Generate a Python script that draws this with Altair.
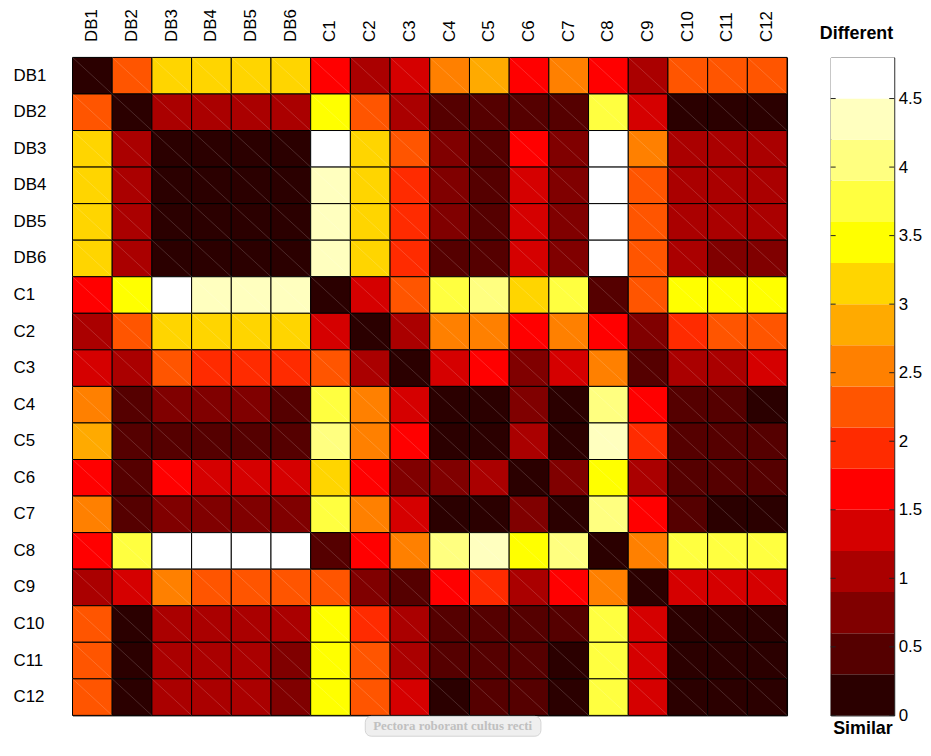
import altair as alt
import pandas as pd

names = ["DB1", "DB2", "DB3", "DB4", "DB5", "DB6", "C1", "C2", "C3",
         "C4", "C5", "C6", "C7", "C8", "C9", "C10", "C11", "C12"]

# distance values (row by row)
r_DB1 = [0.0, 2.2, 3.1, 3.1, 3.1, 3.1, 1.6, 1.0, 1.3, 2.5, 2.8, 1.6, 2.5, 1.6, 1.0, 2.2, 2.2, 2.2]
r_DB2 = [2.2, 0.0, 1.0, 1.0, 1.0, 1.0, 3.4, 2.2, 1.0, 0.4, 0.4, 0.4, 0.4, 3.7, 1.3, 0.1, 0.1, 0.1]
r_DB3 = [3.1, 1.0, 0.0, 0.1, 0.1, 0.1, 4.7, 3.1, 2.2, 0.7, 0.4, 1.6, 0.7, 4.7, 2.5, 1.0, 1.0, 1.0]
r_DB4 = [3.1, 1.0, 0.1, 0.0, 0.1, 0.1, 4.3, 3.1, 1.9, 0.7, 0.4, 1.3, 0.7, 4.7, 2.2, 1.0, 1.0, 1.0]
r_DB5 = [3.1, 1.0, 0.1, 0.1, 0.0, 0.1, 4.3, 3.1, 1.9, 0.7, 0.4, 1.3, 0.7, 4.7, 2.2, 1.0, 1.0, 1.0]
r_DB6 = [3.1, 1.0, 0.1, 0.1, 0.1, 0.0, 4.3, 3.1, 1.9, 0.4, 0.4, 1.3, 0.7, 4.7, 2.2, 1.0, 0.7, 0.7]
r_C1 = [1.6, 3.4, 4.7, 4.3, 4.3, 4.3, 0.0, 1.3, 2.2, 3.7, 4.0, 3.1, 3.7, 0.4, 2.2, 3.4, 3.4, 3.4]
r_C2 = [1.0, 2.2, 3.1, 3.1, 3.1, 3.1, 1.3, 0.0, 1.0, 2.5, 2.5, 1.6, 2.5, 1.6, 0.7, 1.9, 2.2, 2.2]
r_C3 = [1.3, 1.0, 2.2, 1.9, 1.9, 1.9, 2.2, 1.0, 0.0, 1.3, 1.6, 0.7, 1.3, 2.5, 0.4, 1.0, 1.0, 1.3]
r_C4 = [2.5, 0.4, 0.7, 0.7, 0.7, 0.4, 3.7, 2.5, 1.3, 0.0, 0.1, 0.7, 0.1, 4.0, 1.6, 0.4, 0.4, 0.1]
r_C5 = [2.8, 0.4, 0.4, 0.4, 0.4, 0.4, 4.0, 2.5, 1.6, 0.1, 0.0, 1.0, 0.1, 4.3, 1.9, 0.4, 0.4, 0.4]
r_C6 = [1.6, 0.4, 1.6, 1.3, 1.3, 1.3, 3.1, 1.6, 0.7, 0.7, 1.0, 0.0, 0.7, 3.4, 1.0, 0.4, 0.4, 0.4]
r_C7 = [2.5, 0.4, 0.7, 0.7, 0.7, 0.7, 3.7, 2.5, 1.3, 0.1, 0.1, 0.7, 0.0, 4.0, 1.6, 0.4, 0.1, 0.1]
r_C8 = [1.6, 3.7, 4.7, 4.7, 4.7, 4.7, 0.4, 1.6, 2.5, 4.0, 4.3, 3.4, 4.0, 0.0, 2.5, 3.7, 3.7, 3.7]
r_C9 = [1.0, 1.3, 2.5, 2.2, 2.2, 2.2, 2.2, 0.7, 0.4, 1.6, 1.9, 1.0, 1.6, 2.5, 0.0, 1.3, 1.3, 1.3]
r_C10 = [2.2, 0.1, 1.0, 1.0, 1.0, 1.0, 3.4, 1.9, 1.0, 0.4, 0.4, 0.4, 0.4, 3.7, 1.3, 0.0, 0.1, 0.1]
r_C11 = [2.2, 0.1, 1.0, 1.0, 1.0, 0.7, 3.4, 2.2, 1.0, 0.4, 0.4, 0.4, 0.1, 3.7, 1.3, 0.1, 0.0, 0.1]
r_C12 = [2.2, 0.1, 1.0, 1.0, 1.0, 0.7, 3.4, 2.2, 1.3, 0.1, 0.4, 0.4, 0.1, 3.7, 1.3, 0.1, 0.1, 0.0]

matrix = [r_DB1, r_DB2, r_DB3, r_DB4, r_DB5, r_DB6, r_C1, r_C2, r_C3,
          r_C4, r_C5, r_C6, r_C7, r_C8, r_C9, r_C10, r_C11, r_C12]

# 16-level "hot" colormap and its level boundaries
hot16 = ["#2b0000", "#550000", "#800000", "#aa0000", "#d50000", "#ff0000",
         "#ff2b00", "#ff5500", "#ff8000", "#ffaa00", "#ffd500", "#ffff00",
         "#ffff40", "#ffff80", "#ffffbf", "#ffffff"]
thresholds = [0.3, 0.6, 0.9, 1.2, 1.5, 1.8, 2.1, 2.4, 2.7, 3.0, 3.3, 3.6, 3.9, 4.2, 4.5]
band_lo = [0.0, 0.3, 0.6, 0.9, 1.2, 1.5, 1.8, 2.1, 2.4, 2.7, 3.0, 3.3, 3.6, 3.9, 4.2, 4.5]
band_hi = [0.3, 0.6, 0.9, 1.2, 1.5, 1.8, 2.1, 2.4, 2.7, 3.0, 3.3, 3.6, 3.9, 4.2, 4.5, 4.8]
tick_vals = [0, 0.5, 1, 1.5, 2, 2.5, 3, 3.5, 4, 4.5]
cbar_domain = [0, 4.8]
watermark = ["Pectora roborant cultus recti"]

FONT = "Liberation Sans"
W, H = 720, 663

records = [{"row": names[i], "col": names[j], "value": matrix[i][j]}
           for i in range(len(names)) for j in range(len(names))]
df = pd.DataFrame(records)

color_scale = alt.Scale(type="threshold", domain=thresholds, range=hot16)
band = alt.Scale(paddingInner=0, paddingOuter=0)

x_enc = alt.X("col:N", sort=names, scale=band, title=None,
              axis=alt.Axis(orient="top", labelAngle=270, ticks=False, domain=False,
                            labelPadding=16, labelFontSize=17, labelColor="black"))
y_enc = alt.Y("row:N", sort=names, scale=band, title=None,
              axis=alt.Axis(orient="left", ticks=False, domain=False, labelAlign="left",
                            labelPadding=60, labelFontSize=17, labelColor="black"))

base = alt.Chart(df)
cells = base.mark_rect(stroke="black", strokeWidth=1).encode(
    x=x_enc, y=y_enc,
    color=alt.Color("value:Q", scale=color_scale, legend=None),
)
diag = base.mark_rule(color="white", strokeWidth=1, opacity=0.16).encode(
    x=alt.X("col:N", sort=names, bandPosition=0),
    x2=alt.X2("col", bandPosition=1),
    y=alt.Y("row:N", sort=names, bandPosition=0),
    y2=alt.Y2("row", bandPosition=1),
)

wm_df = pd.DataFrame({"text": watermark})
wm_box = alt.Chart(wm_df).mark_rect(fill="#efefef", stroke="#d4d4d4", cornerRadius=6).encode(
    x=alt.value(295), x2=alt.value(472), y=alt.value(664), y2=alt.value(684)
)
wm_text = alt.Chart(wm_df).mark_text(font="Liberation Serif", fontSize=13, fontWeight="bold",
                                     color="#c0c0c0").encode(
    x=alt.value(383), y=alt.value(674), text="text:N"
)

heat = alt.layer(cells, diag, wm_box, wm_text).properties(width=W, height=H)

cb_df = pd.DataFrame({"lo": band_lo, "hi": band_hi})
cb_df["mid"] = (cb_df["lo"] + cb_df["hi"]) / 2
cb_df["k"] = "bar"

cb_rect = alt.Chart(cb_df).mark_rect().encode(
    x=alt.X("k:N", scale=band,
            axis=alt.Axis(title="Similar", labels=False, ticks=False, domain=False,
                          titleFontWeight="bold", titleFontSize=18, titlePadding=4,
                          titleColor="black")),
    y=alt.Y("lo:Q", scale=alt.Scale(domain=cbar_domain, nice=False), title=None,
            axis=alt.Axis(orient="right", values=tick_vals, format="~g", tickSize=0,
                          domain=False, grid=False, labelPadding=4, labelFontSize=17,
                          labelColor="black")),
    y2="hi:Q",
    color=alt.Color("mid:Q", scale=color_scale, legend=None),
)
tk_df = pd.DataFrame({"t": tick_vals})
tick_l = alt.Chart(tk_df).mark_rule(color="#222222", strokeWidth=1).encode(
    y=alt.Y("t:Q", title=None), x=alt.value(0), x2=alt.value(5)
)
tick_r = alt.Chart(tk_df).mark_rule(color="#222222", strokeWidth=1).encode(
    y=alt.Y("t:Q", title=None), x=alt.value(59), x2=alt.value(64)
)
cbar = alt.layer(cb_rect, tick_l, tick_r).properties(
    width=64, height=H,
    title=alt.TitleParams("Different", fontSize=18, fontWeight="bold", anchor="middle",
                          offset=15, dx=-6, color="black"),
)

chart = alt.hconcat(heat, cbar, spacing=31).properties(
    padding={"left": 4, "top": -3, "right": 0, "bottom": -2}
).configure(font=FONT).configure_view(stroke="black", strokeWidth=1)

chart.save("out.html", embed_options={"renderer": "svg", "actions": False})
